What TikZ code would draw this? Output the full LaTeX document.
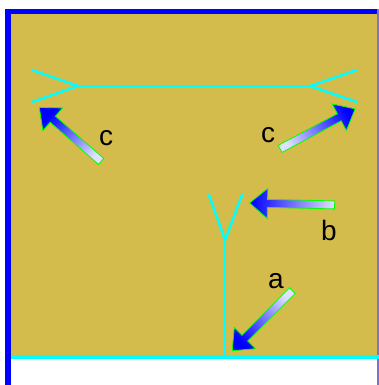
\documentclass[tikz,border=0pt]{standalone}
\usepackage{fontspec}
\setmainfont{Liberation Sans}
\usetikzlibrary{shapes.arrows}
\definecolor{olivefill}{RGB}{212,188,76}
\definecolor{frameblue}{RGB}{0,0,255}
\definecolor{edgeslate}{RGB}{125,115,200}
\definecolor{wirecyan}{RGB}{0,255,255}
\definecolor{rimgreen}{RGB}{0,255,0}
\tikzset{
    wire/.style={
        draw=wirecyan,
        line width=2.5pt,
        line cap=round
    },
    pointer/.style={
        single arrow,
        draw=rimgreen,
        line width=0.8pt,
        left color=white!88!frameblue,
        right color=frameblue,
        inner sep=3.6pt,
        single arrow head extend=11pt,
        single arrow tip angle=80
    },
    letter/.style={
        anchor=base,
        inner sep=0pt,
        font=\fontsize{28}{30}\selectfont
    }
}

\begin{document}
\begin{tikzpicture}[x=1pt,y=-1pt]

\useasboundingbox (0,0) rectangle (379,385);

% BACKGROUND AND FRAME
\fill[olivefill] (11,14) rectangle (378,357);
\fill[frameblue] (5,9) rectangle (11,385);
\fill[frameblue] (5,9) rectangle (378,14);
\fill[edgeslate] (377,9) rectangle (379,385);
\draw[draw=wirecyan, line width=3.5pt] (11,357) -- (379,357);

% THE T WITH ITS FORKS
\coordinate (lfork) at (78,86);
\coordinate (rfork) at (310,86);
\coordinate (foot) at (225,357);
\coordinate (vfork) at (225,240);

\draw[wire] (32,70) -- (lfork) -- (32,102);
\draw[wire] (lfork) -- (rfork);
\draw[wire] (357,70) -- (rfork) -- (357,102);
\draw[wire] (foot) -- (vfork);
\draw[wire] (209,195) -- (vfork) -- (242,195);

% POINTERS
\node[pointer, minimum height=85pt, rotate=-135, shading angle=-45] (pa) at (264,319) {};
\node[pointer, minimum height=85pt, rotate=178.7, shading angle=268.7] (pb) at (294.5,204) {};
\node[pointer, minimum height=82pt, rotate=138.9, shading angle=228.9] (pcl) at (72,136) {};
\node[pointer, minimum height=85pt, rotate=28.1, shading angle=118.1] (pcr) at (315.5,130) {};

% LABELS
\node[letter] (la) at (276,288) {a};
\node[letter] (lb) at (329,240) {b};
\node[letter] (lcl) at (106,145) {c};
\node[letter] (lcr) at (268,142) {c};

\end{tikzpicture}
\end{document}
